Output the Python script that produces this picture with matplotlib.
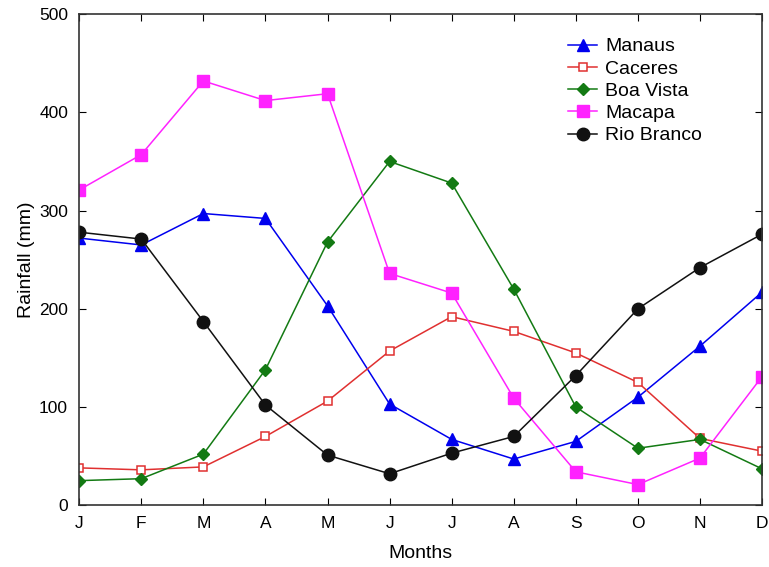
import matplotlib
matplotlib.use("Agg")
import matplotlib.pyplot as plt

plt.rcParams['font.family'] = ['Liberation Sans', 'DejaVu Sans']

months = ["J", "F", "M", "A", "M", "J", "J", "A", "S", "O", "N", "D"]
manaus = [272, 265, 297, 292, 203, 103, 67, 47, 65, 110, 162, 217]
caceres = [38, 36, 39, 70, 106, 157, 192, 177, 155, 125, 68, 55]
boa_vista = [25, 27, 52, 138, 268, 350, 328, 220, 100, 58, 67, 37]
macapa = [321, 357, 432, 412, 419, 236, 216, 109, 34, 21, 48, 131]
rio_branco = [278, 271, 187, 102, 51, 32, 53, 70, 132, 200, 242, 276]

x = list(range(len(months)))

fig = plt.figure(figsize=(7.69, 5.67), dpi=100)
ax = fig.add_axes([0.103, 0.109, 0.888, 0.866])

ax.plot(x, manaus, color='#0000ee', marker='^', markersize=8, lw=1.1, label="Manaus")
ax.plot(x, caceres, color='#e03030', marker='s', markersize=6, mfc='white', mew=1.1, lw=1.1, label="Caceres")
ax.plot(x, boa_vista, color='#137a13', marker='D', markersize=6, lw=1.1, label="Boa Vista")
ax.plot(x, macapa, color='#ff22ff', marker='s', markersize=9, lw=1.1, label="Macapa")
ax.plot(x, rio_branco, color='#111111', marker='o', markersize=9, lw=1.1, label="Rio Branco")

ax.set_xlim(0, 11)
ax.set_ylim(0, 500)
ax.set_xticks(x)
ax.set_xticklabels(months)
ax.set_yticks([0, 100, 200, 300, 400, 500])
ax.tick_params(direction='in', top=True, right=True, labelsize=12.5, length=5, pad=8)
for s in ax.spines.values():
    s.set_linewidth(1.2)
    s.set_color('#333333')

ax.set_xlabel("Months", fontsize=14, labelpad=10)
ax.set_ylabel("Rainfall (mm)", fontsize=14, labelpad=3)

ax.legend(loc='upper left', bbox_to_anchor=(0.716, 0.952), frameon=False, fontsize=14,
          handlelength=1.5, handletextpad=0.4, labelspacing=0.24, borderpad=0,
          borderaxespad=0)

fig.savefig("out.png", dpi=100)
